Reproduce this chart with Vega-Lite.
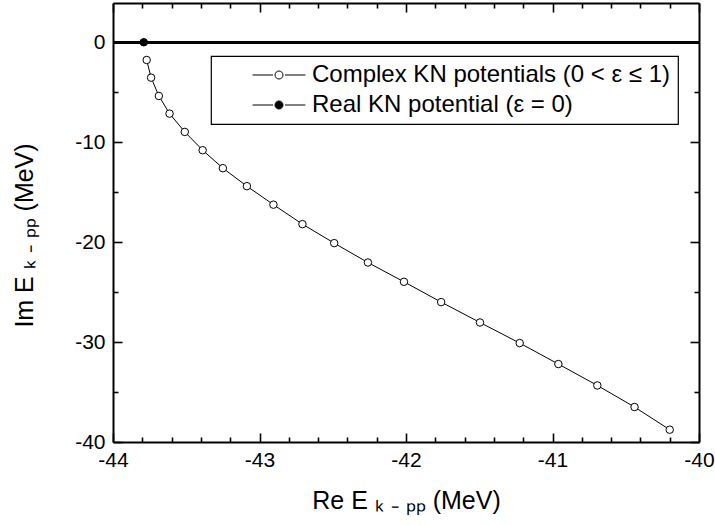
{
  "$schema": "https://vega.github.io/schema/vega-lite/v6.json",
  "width": 586,
  "height": 439,
  "autosize": {"type": "none"},
  "padding": {"left": 113, "top": 3, "right": 16, "bottom": 83},
  "background": "white",
  "config": {
    "view": {"stroke": null},
    "font": "Liberation Sans",
    "axis": {
      "grid": false,
      "domainColor": "black",
      "domainWidth": 2,
      "tickColor": "black",
      "tickWidth": 1.6,
      "labelColor": "black",
      "titleColor": "black",
      "labelFont": "Liberation Sans",
      "titleFont": "Liberation Sans",
      "labelFontSize": 21,
      "titleFontSize": 25,
      "titleFontWeight": "normal",
      "labelFlush": false,
      "labelOverlap": false,
      "labelBound": false
    },
    "legend": {"strokeWidth": 1.2}
  },
  "data": {
    "values": [
      {"series": "Real KN potential (ε = 0)", "re": -43.79, "im": 0},
      {"series": "Complex KN potentials (0 < ε ≤ 1)", "re": -43.77, "im": -1.77},
      {"series": "Complex KN potentials (0 < ε ≤ 1)", "re": -43.74, "im": -3.54},
      {"series": "Complex KN potentials (0 < ε ≤ 1)", "re": -43.687, "im": -5.37},
      {"series": "Complex KN potentials (0 < ε ≤ 1)", "re": -43.614, "im": -7.14},
      {"series": "Complex KN potentials (0 < ε ≤ 1)", "re": -43.51, "im": -8.97},
      {"series": "Complex KN potentials (0 < ε ≤ 1)", "re": -43.388, "im": -10.8},
      {"series": "Complex KN potentials (0 < ε ≤ 1)", "re": -43.25, "im": -12.6},
      {"series": "Complex KN potentials (0 < ε ≤ 1)", "re": -43.086, "im": -14.4},
      {"series": "Complex KN potentials (0 < ε ≤ 1)", "re": -42.905, "im": -16.25},
      {"series": "Complex KN potentials (0 < ε ≤ 1)", "re": -42.707, "im": -18.2},
      {"series": "Complex KN potentials (0 < ε ≤ 1)", "re": -42.49, "im": -20.1},
      {"series": "Complex KN potentials (0 < ε ≤ 1)", "re": -42.26, "im": -22.04},
      {"series": "Complex KN potentials (0 < ε ≤ 1)", "re": -42.014, "im": -23.97},
      {"series": "Complex KN potentials (0 < ε ≤ 1)", "re": -41.76, "im": -26.0},
      {"series": "Complex KN potentials (0 < ε ≤ 1)", "re": -41.495, "im": -28.04},
      {"series": "Complex KN potentials (0 < ε ≤ 1)", "re": -41.224, "im": -30.1},
      {"series": "Complex KN potentials (0 < ε ≤ 1)", "re": -40.96, "im": -32.2},
      {"series": "Complex KN potentials (0 < ε ≤ 1)", "re": -40.694, "im": -34.34},
      {"series": "Complex KN potentials (0 < ε ≤ 1)", "re": -40.44, "im": -36.5},
      {"series": "Complex KN potentials (0 < ε ≤ 1)", "re": -40.2, "im": -38.77}
    ]
  },
  "layer": [
    {
      "mark": {"type": "rule", "color": "black", "strokeWidth": 2},
      "encoding": {
        "y": {"datum": 0, "type": "quantitative", "scale": {"domain": [-40, 3.93], "nice": false, "zero": false}, "axis": null}
      }
    },
    {
      "transform": [{"filter": "datum.series !== 'Real KN potential (ε = 0)'"}],
      "mark": {"type": "line", "color": "black", "strokeWidth": 1},
      "encoding": {
        "x": {
          "field": "re", "type": "quantitative",
          "scale": {"domain": [-44, -40], "nice": false, "zero": false},
          "axis": {
            "orient": "top", "title": null, "labels": false,
            "values": [-44, -43.8, -43.6, -43.4, -43.2, -43, -42.8, -42.6, -42.4, -42.2, -42, -41.8, -41.6, -41.4, -41.2, -41, -40.8, -40.6, -40.4, -40.2, -40],
            "tickSize": {"condition": {"test": "abs(datum.value - round(datum.value)) < 0.001", "value": -9}, "value": -5}
          }
        },
        "y": {
          "field": "im", "type": "quantitative",
          "scale": {"domain": [-40, 3.93], "nice": false, "zero": false},
          "axis": {
            "orient": "right", "title": null, "labels": false,
            "values": [-40, -35, -30, -25, -20, -15, -10, -5, 0],
            "tickSize": {"condition": {"test": "datum.value % 10 === 0", "value": -9}, "value": -5}
          }
        }
      }
    },
    {
      "mark": {"type": "circle", "stroke": "black", "strokeWidth": 1, "size": 56, "opacity": 1},
      "encoding": {
        "x": {
          "field": "re", "type": "quantitative",
          "scale": {"domain": [-44, -40], "nice": false, "zero": false},
          "axis": {
            "orient": "bottom",
            "title": "Re E ₖ ₋ ₚₚ (MeV)",
            "values": [-44, -43.8, -43.6, -43.4, -43.2, -43, -42.8, -42.6, -42.4, -42.2, -42, -41.8, -41.6, -41.4, -41.2, -41, -40.8, -40.6, -40.4, -40.2, -40],
            "labelExpr": "abs(datum.value - round(datum.value)) < 0.001 ? '' + datum.value : ''",
            "tickSize": {"condition": {"test": "abs(datum.value - round(datum.value)) < 0.001", "value": -9}, "value": -5},
            "labelPadding": 16,
            "titlePadding": 14
          }
        },
        "y": {
          "field": "im", "type": "quantitative",
          "scale": {"domain": [-40, 3.93], "nice": false, "zero": false},
          "axis": {
            "orient": "left",
            "title": "Im E ₖ ₋ ₚₚ (MeV)",
            "values": [-40, -35, -30, -25, -20, -15, -10, -5, 0],
            "labelExpr": "datum.value % 10 === 0 ? '' + datum.value : ''",
            "tickSize": {"condition": {"test": "datum.value % 10 === 0", "value": -9}, "value": -5},
            "labelPadding": 17,
            "titlePadding": 37,
            "titleY": 232
          }
        },
        "fill": {
          "field": "series", "type": "nominal",
          "scale": {"domain": ["Complex KN potentials (0 < ε ≤ 1)", "Real KN potential (ε = 0)"], "range": ["white", "black"]},
          "legend": {
            "title": null,
            "orient": "none",
            "legendX": 98,
            "legendY": 53,
            "strokeColor": "black",
            "fillColor": "white",
            "padding": 7,
            "symbolType": "M-6.6,0L-1.5,0M1.5,0L6.6,0M1,0A1,1,0,1,1,-1,0A1,1,0,1,1,1,0Z",
            "symbolSize": 64,
            "symbolStrokeColor": "black",
            "symbolStrokeWidth": 1,
            "symbolOffset": 49,
            "labelOffset": 21,
            "labelFontSize": 24,
            "labelFont": "Liberation Sans",
            "labelColor": "black",
            "labelLimit": 0,
            "labelExpr": "datum.label + '\u00a0\u00a0'",
            "rowPadding": 6
          }
        }
      }
    }
  ],
  "resolve": {"axis": {"x": "independent", "y": "independent"}}
}
